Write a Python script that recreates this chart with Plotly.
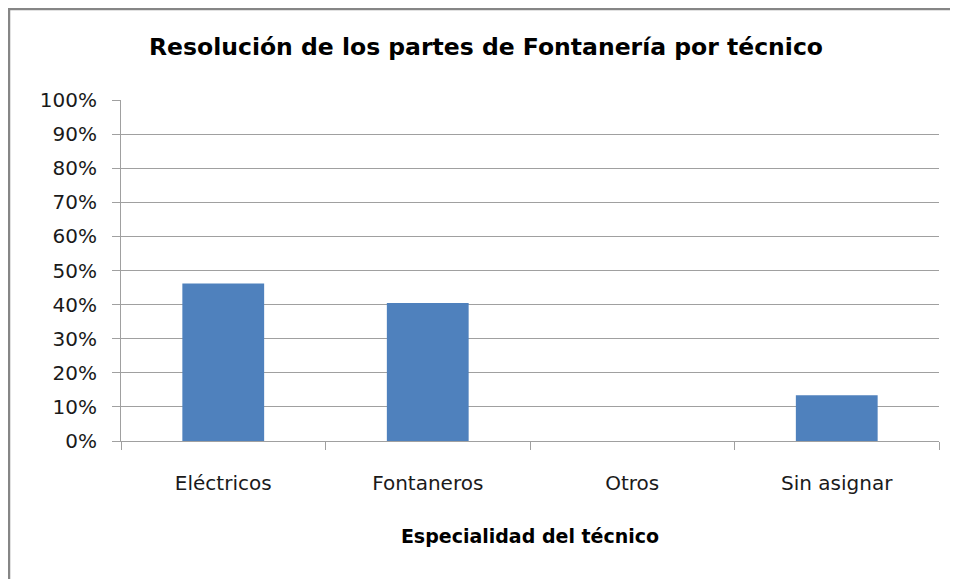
import plotly.graph_objects as go

categories = ["Eléctricos", "Fontaneros", "Otros", "Sin asignar"]
values = [0.462, 0.405, 0.0, 0.134]

title_text = "Resolución de los partes de Fontanería por técnico"
x_title = "Especialidad del técnico"

FONT = "DejaVu Sans"
GRID = "#a0a0a0"

W, H = 950, 571
L, R, T, B = 113, 19, 92, 138
PW, PH = W - L - R, H - T - B


def px_x(p):
    return (p - L) / PW


def px_y(p):
    return 1 - (p - T) / PH


fig = go.Figure()
fig.add_trace(go.Bar(
    x=categories, y=values,
    marker=dict(color="#4f81bd", line=dict(width=0)),
    width=0.4,
    hoverinfo="x+y",
))

fig.update_layout(
    width=W, height=H,
    paper_bgcolor="white", plot_bgcolor="white",
    margin=dict(l=L, r=R, t=T, b=B),
    showlegend=False,
    font=dict(family=FONT, color="#000000"),
    title=dict(
        text="<b>" + title_text + "</b>",
        font=dict(family=FONT, size=23.5, color="#000000"),
        xref="container", x=478 / W, xanchor="center",
        yref="container", y=1 - 39 / H, yanchor="middle",
    ),
    xaxis=dict(
        type="category",
        showline=True, linecolor=GRID, linewidth=1,
        ticks="outside", tickson="boundaries", ticklen=8, tickcolor=GRID,
        tickfont=dict(family=FONT, size=20, color="#1a1a1a"),
        ticklabelstandoff=24,
        showgrid=False,
        title=dict(text="<b>" + x_title + "</b>",
                   font=dict(family=FONT, size=19, color="#000000"),
                   standoff=35),
    ),
    yaxis=dict(
        range=[0, 1], dtick=0.1, tickformat=".0%",
        showline=True, linecolor=GRID, linewidth=1,
        ticks="outside", ticklen=8, tickcolor=GRID,
        showgrid=True, gridcolor=GRID, gridwidth=1,
        tickfont=dict(family=FONT, size=20, color="#1a1a1a"),
        ticklabelstandoff=11,
        zeroline=False,
    ),
    shapes=[
        dict(type="line", xref="paper", yref="paper",
             x0=px_x(0), x1=px_x(W), y0=px_y(1), y1=px_y(1),
             line=dict(color="#868686", width=2.5)),
        dict(type="line", xref="paper", yref="paper",
             x0=px_x(1), x1=px_x(1), y0=px_y(0), y1=px_y(H),
             line=dict(color="#868686", width=2.5)),
    ],
)

fig.write_html("out.html")
